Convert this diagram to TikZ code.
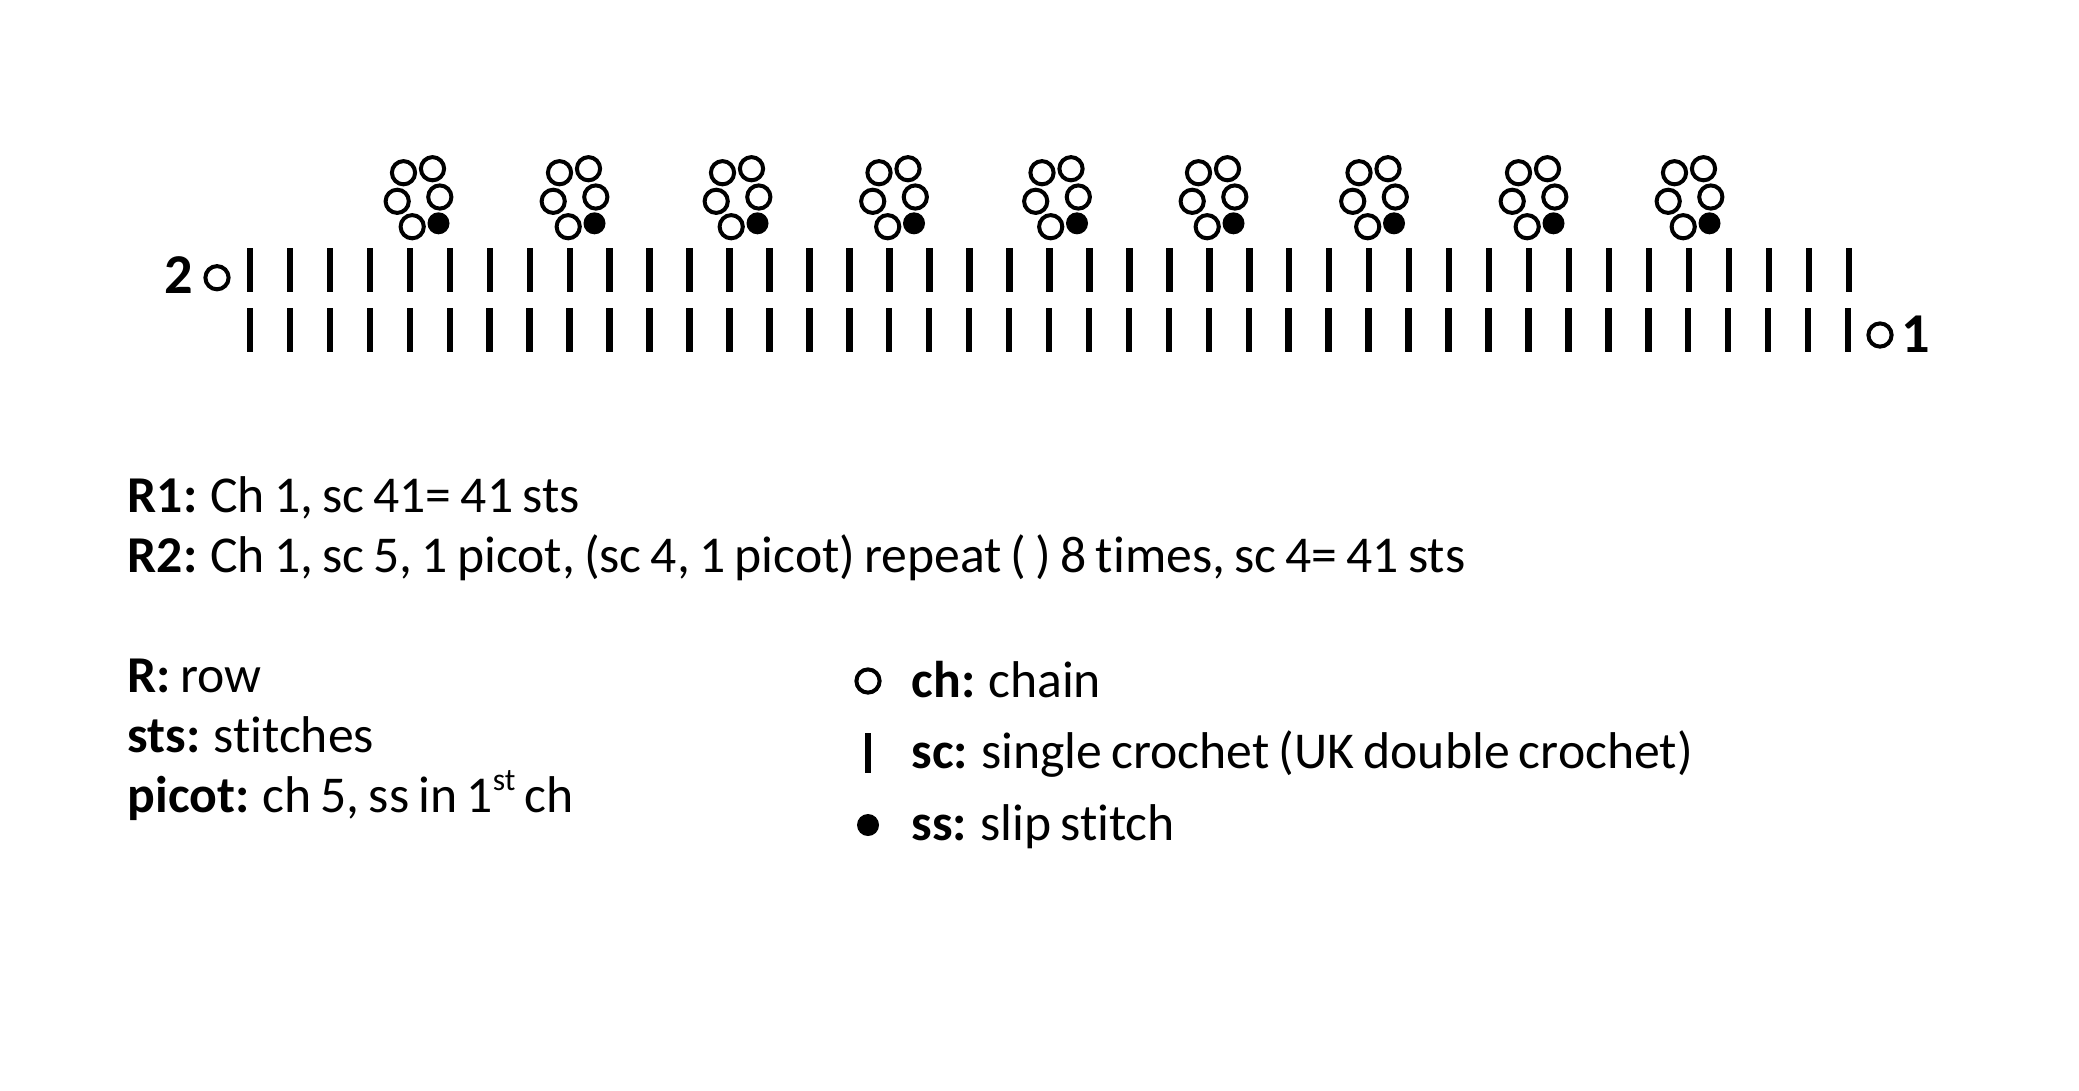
\documentclass[tikz,border=0pt]{standalone}
\usepackage{fontspec}
\setmainfont[WordSpace=0.78, Ligatures=NoCommon]{Carlito}
\newcommand{\upper}[1]{\raisebox{0.42em}{\fontsize{9pt}{10pt}\selectfont #1}}
\begin{document}

\begin{tikzpicture}[x=0.01cm, y=-0.01cm,
  chain/.style={circle, draw=black, line width=0.04cm, minimum size=0.232cm, inner sep=0pt, outer sep=0pt},
  slip/.style={circle, fill=black, minimum size=0.22cm, inner sep=0pt, outer sep=0pt},
  stitch/.style={line width=0.065cm, black},
  rowlabel/.style={font=\fontsize{16pt}{18pt}\bfseries, inner sep=0pt},
  legend/.style={font=\fontsize{14.7pt}{16pt}\selectfont, anchor=base west, inner sep=0pt}]

\useasboundingbox (0, 0) rectangle (2079, 1090);
\fill[white] (0, 0) rectangle (2079, 1090);

% the two rows of stitches
\foreach \i in {0,...,40} {
  \draw[stitch] ({250 + 39.97*\i}, 248) -- ({250 + 39.97*\i}, 292);
  \draw[stitch] ({250 + 39.95*\i}, 308) -- ({250 + 39.95*\i}, 352);
}

% picots, placed by their slip stitch
\foreach \x [count=\k] in {438.5, 594.5, 757.5, 914, 1077, 1233.5, 1394, 1553.5, 1709.5} {
  \node[slip] (ss\k) at (\x, 223.3) {};
  \node[chain] (pa\k) at (\x - 26.3, 226.7) {};
  \node[chain] (pb\k) at (\x - 41.3, 201.3) {};
  \node[chain] (pc\k) at (\x - 35, 172.7) {};
  \node[chain] (pd\k) at (\x - 6, 168.7) {};
  \node[chain] (pe\k) at (\x + 1.3, 197) {};
}

\node[chain] (start2) at (217, 277.7) {};
\node[rowlabel] (label2) at (179, 275) {2};
\node[chain] (start1) at (1880, 335) {};
\node[rowlabel] (label1) at (1916, 334) {1};

% the pattern
\node[legend] (rone) at (127, 512) {\textbf{R1:} Ch 1, sc 41= 41 sts};
\node[legend] (rtwo) at (127, 572) {\textbf{R2:} Ch 1, sc 5, 1 picot, (sc 4, 1 picot) repeat ( ) 8 times, sc 4= 41 sts};

\node[legend] (row) at (127, 692) {\textbf{R:} row};
\node[legend] (sts) at (127, 752) {\textbf{sts:} stitches};
\node[legend] (picot) at (127, 812) {\textbf{picot:} ch 5, ss in 1\upper{st} ch};

% the key
\node[chain] (keych) at (868, 681) {};
\draw[stitch] (868, 733) -- (868, 773);
\node[slip] (keyss) at (868, 825) {};
\node[legend] (ch) at (911, 697) {\textbf{ch:} chain};
\node[legend] (sc) at (911, 768) {\textbf{sc:} single crochet (UK double crochet)};
\node[legend] (ss) at (911, 840) {\textbf{ss:} slip stitch};

\end{tikzpicture}
\end{document}
